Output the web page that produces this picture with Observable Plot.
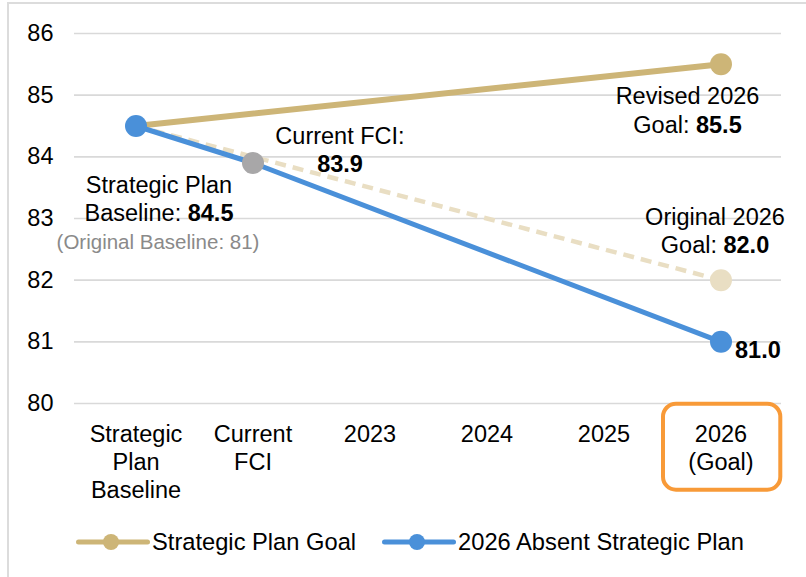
<!DOCTYPE html>
<html><head><meta charset="utf-8">
<script src="https://cdn.jsdelivr.net/npm/d3@7"></script>
<script src="https://cdn.jsdelivr.net/npm/@observablehq/plot@0.6"></script>
<style>
body{margin:0;background:#fff;font-family:"Liberation Sans",Arial,Helvetica,sans-serif;}
#wrap{position:relative;width:806px;height:577px;overflow:hidden;}
#chart{position:absolute;left:0;top:0;}
#frame{position:absolute;left:7px;top:2px;width:820px;height:600px;border-left:2px solid #dcdcdc;border-top:2px solid #dcdcdc;pointer-events:none;}
#legend{position:absolute;left:0;top:515px;width:806px;height:54px;display:flex;align-items:center;padding-left:74px;box-sizing:border-box;font-size:23.7px;color:#000;}
.item{display:flex;align-items:center;margin-right:24px;}
</style></head><body>
<div id="wrap"><div id="chart"></div><div id="legend"></div><div id="frame"></div></div>
<script>
// ---- data ----
const categories = ["Strategic Plan Baseline","Current FCI","2023","2024","2025","2026 (Goal)"];
const tickLabels = ["Strategic\nPlan\nBaseline","Current\nFCI","2023","2024","2025","2026\n(Goal)"];
const yTicks = [80,81,82,83,84,85,86];

const goalX = ["Strategic Plan Baseline","2026 (Goal)"];
const goalY = [84.5, 85.5];
const originalX = ["Strategic Plan Baseline","2026 (Goal)"];
const originalY = [84.5, 82.0];
const absentX = ["Strategic Plan Baseline","Current FCI","2026 (Goal)"];
const absentY = [84.5, 83.9, 81.0];
const currentX = ["Current FCI"];
const currentY = [83.9];
const highlight = ["2026 (Goal)"];

const legendLabels = ["Strategic Plan Goal","2026 Absent Strategic Plan"];

const labelBaseline = {x:"Strategic Plan Baseline", y:84.5, text:"Strategic Plan\nBaseline: **84.5**"};
const labelOrigBase = {x:"Strategic Plan Baseline", y:84.5, text:"(Original Baseline: 81)"};
const labelCurrent  = {x:"Current FCI", y:83.9, text:"Current FCI:\n**83.9**"};
const labelRevised  = {x:"2026 (Goal)", y:85.5, text:"Revised 2026\nGoal: **85.5**"};
const labelOriginal = {x:"2026 (Goal)", y:82.0, text:"Original 2026\nGoal: **82.0**"};
const labelAbsent   = {x:"2026 (Goal)", y:81.0, text:"**81.0**"};

// ---- styles ----
const GOLD = "#CDB577", GOLD_LIGHT = "#E9DEC3", BLUE = "#4A90D9", GRAY = "#A8A7A8", ORANGE = "#F89A38";
const FS = 23.5;

const zip = (xs, ys) => xs.map((x,i) => ({x, y: ys[i]}));
const goal = zip(goalX, goalY), original = zip(originalX, originalY), absent = zip(absentX, absentY), current = zip(currentX, currentY);

const txt = (d, o) => Plot.text([d], {x:"x", y:"y", text:"text", fontSize:FS, lineHeight:1.21, fill:"#000", className:"rich", ...o});

const plot = Plot.plot({
  width: 806, height: 515,
  marginLeft: 74, marginRight: 25, marginTop: 33, marginBottom: 112,
  style: {fontFamily: '"Liberation Sans", Arial, Helvetica, sans-serif', fontSize: FS+"px", color:"#000", background:"transparent", overflow:"visible"},
  x: {type:"band", domain: categories, padding: 0},
  y: {domain: [80, 86]},
  marks: [
    Plot.gridY(yTicks, {stroke:"#d9d9d9", strokeOpacity:1, strokeWidth:1.6}),
    Plot.axisY(yTicks, {tickSize:0, tickPadding:21, fontSize:FS, fill:"#000", label:null, tickFormat: d => String(d)}),
    Plot.axisX({tickSize:0, tickPadding:18, fontSize:FS, lineHeight:1.2, fill:"#000", label:null,
      tickFormat: d => tickLabels[categories.indexOf(d)]}),
    Plot.barY(highlight, {x: d => d, y1: 80, y2: 80, fill:"none", stroke: ORANGE, strokeWidth: 4, rx: 13,
      insetLeft: 1, insetRight: -1.3, insetTop: 0.7, insetBottom: -86.7}),
    Plot.line(original, {x:"x", y:"y", stroke: GOLD_LIGHT, strokeWidth: 4.5, strokeDasharray:"11,7", strokeLinecap:"butt"}),
    Plot.line(goal, {x:"x", y:"y", stroke: GOLD, strokeWidth: 6}),
    Plot.line(absent, {x:"x", y:"y", stroke: BLUE, strokeWidth: 5}),
    Plot.dot(original.slice(1), {x:"x", y:"y", r: 11, fill: GOLD_LIGHT}),
    Plot.dot(goal.slice(1), {x:"x", y:"y", r: 11, fill: GOLD}),
    Plot.dot(current, {x:"x", y:"y", r: 11, fill: GRAY}),
    Plot.dot([absent[0], absent[2]], {x:"x", y:"y", r: 11, fill: BLUE}),
    txt(labelBaseline, {dx: 23, dy: 72}),
    txt(labelOrigBase, {dx: 22, dy: 115, fontSize: 20.5, fill:"#8a8a8a"}),
    txt(labelCurrent, {dx: 87, dy: -14}),
    txt(labelRevised, {dx: -33.5, dy: 45}),
    txt(labelOriginal, {dx: -6, dy: -50}),
    txt(labelAbsent, {dx: 14, dy: 7, textAnchor: "start"})
  ]
});

// bold markup **...** inside labels
plot.querySelectorAll("g.rich text").forEach(t => {
  const spans = t.querySelectorAll("tspan");
  const targets = spans.length ? [...spans] : [t];
  targets.forEach(el => {
    const s = el.textContent;
    if (!s.includes("**")) return;
    el.textContent = "";
    s.split("**").forEach((part, i) => {
      if (!part) return;
      const ts = document.createElementNS("http://www.w3.org/2000/svg", "tspan");
      if (i % 2) ts.setAttribute("font-weight", "bold");
      ts.textContent = part;
      el.appendChild(ts);
    });
  });
});
document.getElementById("chart").appendChild(plot);

// legend
const legendColors = [GOLD, BLUE];
const leg = document.getElementById("legend");
legendLabels.forEach((lab, i) => {
  const item = document.createElement("div");
  item.className = "item";
  item.innerHTML = `<svg width="78" height="20" style="display:block"><line x1="4.5" y1="10" x2="73.5" y2="10" stroke="${legendColors[i]}" stroke-width="5" stroke-linecap="round"/><circle cx="37" cy="10" r="8" fill="${legendColors[i]}"/></svg><span>${lab}</span>`;
  leg.appendChild(item);
});
</script>
</body></html>
